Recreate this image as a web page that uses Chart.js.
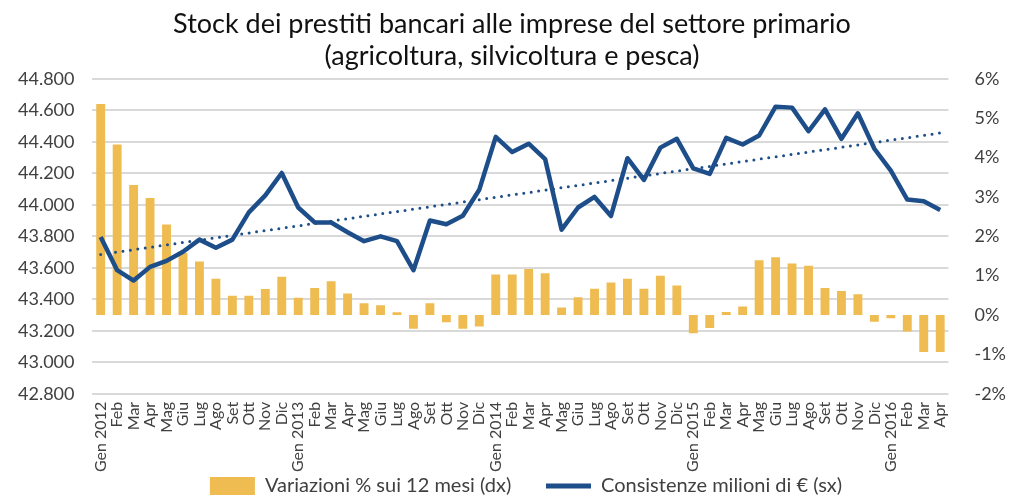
<!DOCTYPE html>
<html lang="it">
<head>
<meta charset="UTF-8">
<title>Stock dei prestiti bancari</title>
<script src="https://cdn.jsdelivr.net/npm/chart.js"></script>
<style>
  body { margin: 0; background: #fff; }
  #wrap { width: 1009px; height: 496px; }
</style>
</head>
<body>
<div id="wrap"><canvas id="chart"></canvas></div>
<script>
// dati
const mesi = [
  'Gen 2012','Feb','Mar','Apr','Mag','Giu','Lug','Ago','Set','Ott','Nov','Dic',
  'Gen 2013','Feb','Mar','Apr','Mag','Giu','Lug','Ago','Set','Ott','Nov','Dic',
  'Gen 2014','Feb','Mar','Apr','Mag','Giu','Lug','Ago','Set','Ott','Nov','Dic',
  'Gen 2015','Feb','Mar','Apr','Mag','Giu','Lug','Ago','Set','Ott','Nov','Dic',
  'Gen 2016','Feb','Mar','Apr'
];
const variazioni = [
  5.36, 4.33, 3.30, 2.97, 2.30, 1.58, 1.36, 0.92, 0.49, 0.49, 0.66, 0.97,
  0.44, 0.69, 0.86, 0.55, 0.30, 0.25, 0.07, -0.35, 0.30, -0.18, -0.35, -0.29,
  1.03, 1.03, 1.17, 1.06, 0.19, 0.45, 0.67, 0.83, 0.92, 0.67, 1.00, 0.75,
  -0.46, -0.33, 0.08, 0.22, 1.39, 1.47, 1.31, 1.25, 0.69, 0.61, 0.53, -0.17,
  -0.08, -0.42, -0.94, -0.94
];
const consistenze = [
  43796, 43585, 43519, 43606, 43644, 43702, 43779, 43727, 43779, 43952, 44060, 44202,
  43983, 43888, 43888, 43826, 43769, 43800, 43769, 43585, 43900, 43877, 43931, 44096,
  44431, 44335, 44388, 44290, 43842, 43983, 44050, 43929, 44296, 44158, 44363, 44419,
  44231, 44196, 44425, 44383, 44440, 44623, 44617, 44467, 44606, 44419, 44581, 44356,
  44217, 44033, 44023, 43967
];
// estremi della linea di tendenza
const tendenza = [43685, 44456];

const FONT = 'Lato, "Open Sans", sans-serif';
const trendData = mesi.map((m, i) => i === 0 ? tendenza[0] : (i === mesi.length - 1 ? tendenza[1] : null));

function puntini(v) {
  return String(v).replace(/\B(?=(\d{3})+(?!\d))/g, '.');
}

// sposta la legenda un po' a destra come nell'originale
const spostaLegenda = {
  id: 'spostaLegenda',
  afterLayout(chart) {
    chart.legend.left += 14;
    chart.legend.right += 14;
  }
};

new Chart(document.getElementById('chart'), {
  data: {
    labels: mesi,
    datasets: [
      {
        type: 'bar',
        label: 'Variazioni % sui 12 mesi (dx)',
        data: variazioni,
        yAxisID: 'yR',
        backgroundColor: '#efbc52',
        barPercentage: 0.54,
        categoryPercentage: 1,
        order: 2
      },
      {
        type: 'line',
        label: 'Consistenze milioni di € (sx)',
        data: consistenze,
        yAxisID: 'yL',
        borderColor: '#1d4e89',
        backgroundColor: '#1d4e89',
        borderWidth: 4.5,
        pointRadius: 0,
        tension: 0,
        borderJoinStyle: 'round',
        order: 1
      },
      {
        type: 'line',
        label: 'tendenza',
        data: trendData,
        yAxisID: 'yL',
        spanGaps: true,
        borderColor: '#1d4e89',
        borderWidth: 3,
        borderDash: [0, 7.5],
        borderCapStyle: 'round',
        pointRadius: 0,
        order: 0
      }
    ]
  },
  options: {
    responsive: true,
    maintainAspectRatio: false,
    animation: false,
    layout: { padding: { left: 0, right: -15, top: 0, bottom: -10 } },
    plugins: {
      title: {
        display: true,
        text: ['Stock dei prestiti bancari alle imprese del settore primario', '(agricoltura, silvicoltura e pesca)'],
        color: '#111',
        font: { family: FONT, size: 27, weight: 'normal' },
        lineHeight: 1.05,
        padding: { top: 8, bottom: 6 }
      },
      legend: {
        position: 'bottom',
        labels: {
          color: '#404040',
          font: { family: FONT, size: 20 },
          usePointStyle: true,
          pointStyleWidth: 45,
          boxHeight: 18,
          padding: 4,
          generateLabels: chart => chart.data.datasets.slice(0, 2).map((ds, i) => ({
            text: i === 0 ? ds.label + '\u00a0'.repeat(6) : ds.label,
            fillStyle: ds.backgroundColor,
            strokeStyle: ds.type === 'line' ? ds.borderColor : 'rgba(0,0,0,0)',
            lineWidth: ds.type === 'line' ? 5 : 0,
            pointStyle: ds.type === 'line' ? 'line' : 'rect',
            fontColor: '#404040',
            datasetIndex: i,
            hidden: false
          }))
        }
      },
      tooltip: { enabled: false }
    },
    scales: {
      x: {
        offset: true,
        grid: { display: false },
        border: { display: false },
        ticks: {
          autoSkip: false,
          maxRotation: 90,
          minRotation: 90,
          color: '#404040',
          font: { family: FONT, size: 16 },
          padding: 0
        }
      },
      yL: {
        position: 'left',
        min: 42800,
        max: 44800,
        grid: { color: '#d9d9d9', lineWidth: 2, drawTicks: false },
        border: { display: false },
        ticks: {
          stepSize: 200,
          color: '#404040',
          font: { family: FONT, size: 18 },
          padding: 18,
          callback: v => puntini(v)
        }
      },
      yR: {
        position: 'right',
        min: -2,
        max: 6,
        grid: { display: false },
        border: { display: false },
        ticks: {
          stepSize: 1,
          color: '#404040',
          font: { family: FONT, size: 18 },
          padding: 18,
          callback: v => v + '%'
        }
      }
    }
  },
  plugins: [spostaLegenda]
});
</script>
</body>
</html>
